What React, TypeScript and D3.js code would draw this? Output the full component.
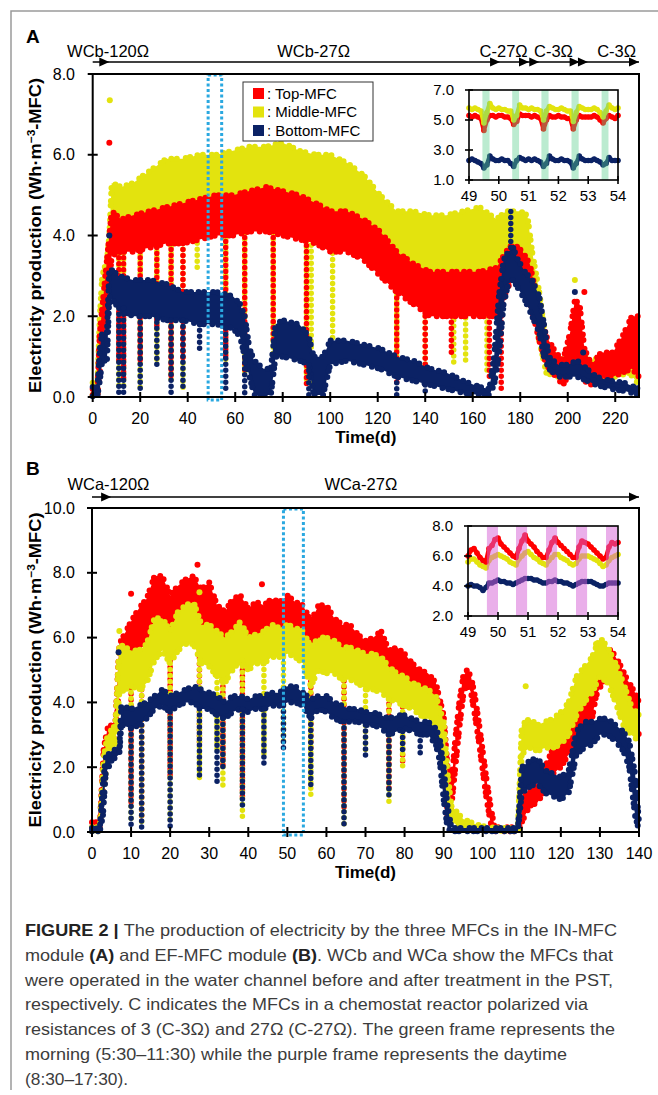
import React from 'react';
import * as d3 from 'd3';

const FONT = '"Liberation Sans", Arial, Helvetica, sans-serif';
const RED = '#ff0000';
const YELLOW = '#e3e30e';
const NAVY = '#0b2265';

// ---------- panel A : IN-MFC module ----------
const dayTicksA = [0, 20, 40, 60, 80, 100, 120, 140, 160, 180, 200, 220];
const valueTicksA = [0, 2, 4, 6, 8];
const phaseLabelsA = ['WCb-120Ω', 'WCb-27Ω', 'C-27Ω', 'C-3Ω', 'C-3Ω'];
const phaseDaysA = [6.5, 93, 173, 194, 220.6];
const arrowHeadsA = [7, 171.5, 183.7, 188, 205, 208.5, 230];
const focusA = [48.6, 54.3];

// band: [day, low, high]; dips: [day, from, to]; spots: [day, value]
const middleBandA = [[0,0.05,0.35],[2,0.05,0.3],[3,0.8,2.0],[4,2.0,3.0],[6,2.8,3.4],[7,3.0,4.0],[8,4.3,5.3],[12,4.3,5.2],[17,4.4,5.3],[24,4.5,5.6],[31,4.6,5.9],[38,4.7,5.9],[45,4.7,6.0],[52,4.8,6.0],[59,4.8,6.1],[66,4.8,6.2],[73,4.8,6.2],[80,4.7,6.3],[87,4.6,6.1],[94,4.5,6.0],[100,4.3,6.0],[107,4.2,5.8],[114,4.0,5.5],[121,3.6,5.0],[128,3.1,4.6],[135,2.8,4.6],[142,2.6,4.5],[149,2.8,4.5],[156,3.0,4.6],[163,2.9,4.7],[170,2.7,4.4],[174,3.0,4.6],[180,3.3,4.6],[183,3.1,4.5],[185,2.6,3.6],[188,1.4,2.6],[191,0.6,1.3],[195,0.5,1.0],[199,0.5,0.9],[202,0.7,1.5],[205,0.6,1.3],[209,0.4,0.8],[213,0.5,1.0],[220,0.5,0.9],[226,0.6,1.3],[230,0.3,0.9]];
const middleDipsA = [[11,4.3,0.2],[13,4.3,0.2],[20,4.4,0.2],[27,4.5,0.9],[33,4.6,0.3],[38,4.7,0.2],[44,4.7,3.2],[56,4.8,0.9],[64,4.8,0.5],[76,4.8,1.0],[90,4.6,0.3],[92,4.5,0.2],[101,4.3,1.3],[128,3.1,0.5],[140,2.6,0.3],[152,2.8,0.8],[157,3.0,0.9],[166,2.9,0.6]];
const middleSpotsA = [[7.2,7.35],[203,2.9]];

const topBandA = [[0,0.05,0.2],[2,0.05,0.2],[3,0.6,1.6],[5,1.6,2.8],[7,2.8,4.0],[8,3.5,4.6],[12,3.6,4.4],[17,3.6,4.5],[24,3.7,4.6],[31,3.8,4.7],[38,3.8,4.8],[45,3.9,4.9],[52,4.0,5.0],[59,4.0,5.0],[66,4.1,5.1],[73,4.1,5.2],[80,4.0,5.1],[87,3.9,5.0],[94,3.8,4.8],[100,3.6,4.6],[107,3.6,4.6],[114,3.4,4.4],[121,3.0,4.1],[128,2.6,3.6],[135,2.3,3.3],[142,2.0,3.1],[149,2.0,3.1],[156,2.0,3.1],[163,2.0,3.1],[170,2.0,3.2],[174,2.6,3.6],[177,3.0,3.8],[181,2.8,3.6],[184,2.4,3.3],[188,1.4,2.2],[191,0.8,1.5],[195,0.5,1.1],[198,0.3,0.9],[201,0.6,1.6],[203,0.9,2.4],[205,0.7,2.3],[207,0.4,1.2],[210,0.3,0.8],[214,0.5,1.1],[219,0.5,1.1],[223,0.6,1.5],[227,0.7,2.0],[230,0.5,2.0]];
const topDipsA = [[11,3.6,0.8],[13,3.6,0.4],[20,3.6,0.9],[27,3.7,1.7],[33,3.8,0.5],[38,3.8,0.9],[56,4.0,0.9],[64,4.1,0.6],[76,4.1,1.3],[90,3.9,0.3],[128,2.6,0.3],[140,2.0,0.3],[151,2.0,1.0],[167,2.0,0.5],[172,2.0,0.2]];
const topSpotsA = [[7,6.3],[207,2.6]];

const bottomBandA = [[0,0.02,0.25],[2,0.02,0.25],[3,0.4,1.2],[4,0.9,1.6],[6,0.9,1.6],[7,2.5,3.2],[11,2.2,3.0],[17,2.0,2.9],[24,2.0,2.9],[31,1.9,2.8],[38,1.9,2.6],[45,1.8,2.6],[52,1.8,2.6],[59,1.7,2.5],[62,1.5,2.3],[64,1.0,2.0],[66,0.5,1.2],[68,0.05,0.9],[72,0.05,0.7],[75,0.05,0.7],[77,1.0,1.8],[80,1.0,1.9],[87,0.9,1.8],[91,0.8,1.5],[93,0.05,1.0],[97,0.05,1.0],[100,0.8,1.4],[107,0.9,1.4],[114,0.8,1.3],[121,0.7,1.2],[128,0.5,1.0],[135,0.4,0.9],[142,0.3,0.7],[149,0.2,0.6],[156,0.1,0.4],[163,0.05,0.25],[167,0.05,0.2],[169,0.3,1.0],[171,1.0,2.5],[173,2.3,3.4],[175,2.8,3.6],[177,2.9,3.7],[179,2.7,3.4],[182,2.4,3.1],[185,2.0,2.9],[188,1.6,2.5],[190,1.0,1.8],[192,0.7,1.0],[196,0.5,0.8],[200,0.5,0.8],[204,0.5,0.9],[208,0.4,0.7],[212,0.3,0.5],[218,0.2,0.4],[224,0.15,0.35],[230,0.05,0.2]];
const bottomDipsA = [[11,2.2,0.1],[13,2.2,0.1],[20,2.0,0.1],[27,2.0,0.8],[33,1.9,0.1],[38,1.9,0.2],[45,1.8,1.2],[56,1.7,0.1],[64,1.0,0.1],[91,0.8,0.05],[128,0.5,0.05],[140,0.3,0.05],[176,3.7,4.6]];
const bottomSpotsA = [[7,4.0],[203,2.6],[206.5,1.1]];

// inset A (days 49-54, 0.1 d steps)
const insetTicksA = [1, 3, 5, 7];
const morningBands = [[49.45,49.69],[50.45,50.68],[51.43,51.67],[52.44,52.68],[53.45,53.68]];
const insetMiddleA = [5.8,5.7,5.8,5.7,5.6,4.8,5.5,6.1,5.8,5.7, 5.8,5.7,5.7,5.6,5.6,5.0,5.3,6.0,5.8,5.8, 5.7,5.8,5.7,5.7,5.6,5.0,5.6,5.9,5.8,5.7, 5.7,5.8,5.7,5.6,5.6,4.9,5.5,5.9,5.8,5.7, 5.7,5.7,5.8,5.7,5.5,5.2,5.6,6.0,5.8,5.7, 5.8];
const insetTopA = [5.3,5.2,5.3,5.2,5.1,4.3,5.0,5.3,5.3,5.2, 5.3,5.3,5.2,5.2,5.1,4.7,4.9,5.4,5.3,5.3, 5.3,5.2,5.3,5.2,5.1,4.4,5.0,5.3,5.2,5.2, 5.3,5.2,5.2,5.1,5.1,4.4,5.0,5.3,5.2,5.2, 5.2,5.2,5.3,5.2,5.0,4.8,5.1,5.3,5.2,5.1, 5.3];
const insetBottomA = [2.3,2.4,2.3,2.2,2.1,1.8,2.0,2.6,2.4,2.3, 2.3,2.4,2.3,2.3,2.1,1.9,2.3,2.5,2.4,2.3, 2.4,2.3,2.4,2.3,2.2,1.9,2.1,2.6,2.4,2.3, 2.3,2.4,2.3,2.3,2.2,1.8,2.1,2.6,2.4,2.3, 2.3,2.3,2.4,2.3,2.2,2.0,2.1,2.5,2.3,2.3, 2.3];

// ---------- panel B : EF-MFC module ----------
const dayTicksB = [0, 10, 20, 30, 40, 50, 60, 70, 80, 90, 100, 110, 120, 130, 140];
const valueTicksB = [0, 2, 4, 6, 8, 10];
const phaseLabelsB = ['WCa-120Ω', 'WCa-27Ω'];
const phaseDaysB = [4.2, 68.8];
const arrowHeadsB = [4.9, 140];
const focusB = [49, 54.1];

const topBandB = [[0,0.05,0.3],[2,0.05,0.2],[3,1.5,2.6],[4,2.6,3.2],[6,3.0,3.4],[7,4.5,5.8],[10,5.0,6.5],[12,5.5,6.9],[14,6.0,7.2],[16,6.7,7.9],[18,6.6,7.9],[20,6.2,7.3],[22,6.6,7.6],[24,6.8,7.8],[26,6.7,7.9],[28,6.2,7.5],[30,6.3,7.7],[32,5.9,7.0],[34,5.6,6.8],[36,6.0,7.2],[38,6.1,7.3],[40,5.8,6.9],[42,6.2,7.1],[44,6.0,7.0],[46,6.3,7.2],[48,6.2,7.1],[50,6.3,7.3],[52,6.2,7.1],[54,6.0,7.0],[56,5.2,6.5],[58,5.9,7.0],[60,5.8,7.0],[62,5.6,6.6],[64,5.4,6.4],[66,5.4,6.4],[68,5.2,6.1],[70,5.0,5.9],[72,5.1,6.0],[74,5.0,6.2],[76,4.7,5.6],[78,4.7,5.7],[80,4.6,5.5],[82,4.5,5.2],[84,4.3,5.0],[86,4.2,4.9],[88,3.6,4.6],[90,2.8,3.6],[91,0.5,2.0],[92,0.8,1.5],[93,2.0,2.9],[94,3.2,4.0],[95,4.2,4.8],[96,4.6,5.0],[97,4.3,4.8],[98,3.6,4.2],[99,2.8,3.4],[100,1.9,2.5],[101,1.0,1.6],[102,0.3,0.8],[103,0.02,0.15],[109,0.02,0.15],[110,0.3,0.9],[112,0.8,1.4],[114,0.9,1.5],[116,1.3,2.0],[118,1.8,2.6],[120,2.0,2.9],[122,2.4,3.2],[124,2.9,3.6],[126,3.3,3.9],[128,3.5,4.2],[129,4.2,5.4],[131,4.7,5.7],[133,4.8,5.6],[135,4.3,5.2],[137,3.8,4.7],[139,3.3,4.3],[140,3.0,4.0]];
const topDipsB = [[10,5.0,0.8],[12.7,5.5,0.4],[20,6.2,1.6],[27.5,6.3,2.6],[33.5,5.6,2.0],[38.5,6.1,1.0],[56,5.2,2.5],[64.5,5.4,0.6],[76,4.7,1.2],[79.5,4.6,2.1]];
const topSpotsB = [[10,7.35],[27,8.25],[43.5,7.65],[1,0.3]];

const middleBandB = [[0,0.02,0.15],[2,0.02,0.15],[3,1.2,2.3],[4,2.4,3.0],[6,2.7,3.3],[7,4.3,5.8],[10,4.5,5.6],[12,4.4,5.6],[14,4.6,5.8],[16,5.3,6.6],[18,5.6,6.6],[20,5.2,6.2],[22,5.6,6.8],[24,5.8,7.0],[26,5.8,7.1],[28,5.2,6.4],[30,5.1,6.4],[32,4.8,6.2],[34,4.6,6.0],[36,5.0,6.2],[38,5.3,6.5],[40,5.0,6.0],[42,5.2,6.1],[44,5.2,6.2],[46,5.4,6.4],[48,5.4,6.3],[50,5.5,6.4],[52,5.4,6.3],[54,5.2,6.2],[56,4.5,5.7],[58,5.0,6.0],[60,4.9,6.0],[62,4.9,5.9],[64,4.7,5.7],[66,4.7,5.7],[68,4.6,5.6],[70,4.4,5.5],[72,4.4,5.5],[74,4.3,5.4],[76,4.1,5.1],[78,4.0,4.9],[80,3.9,4.8],[82,3.8,4.6],[84,3.6,4.5],[86,3.5,4.4],[88,3.2,4.2],[90,2.0,3.4],[91,0.5,1.8],[92,0.3,0.8],[95,0.15,0.4],[98,0.1,0.25],[101,0.05,0.15],[109,0.02,0.1],[110,2.4,3.3],[112,2.6,3.5],[114,2.5,3.3],[116,2.6,3.4],[118,2.6,3.5],[120,2.7,3.7],[122,3.0,4.0],[124,3.6,4.8],[126,4.0,5.1],[128,4.3,5.4],[130,4.8,6.0],[132,4.6,5.7],[134,4.0,5.2],[136,3.3,4.6],[138,3.0,3.9],[140,2.8,3.6]];
const middleDipsB = [[10,4.5,0.3],[12.7,4.4,0.2],[20,5.2,0.3],[27.5,5.2,1.6],[32,4.8,2.4],[33.5,4.6,1.4],[38.5,5.3,0.3],[44,5.2,2.4],[49,5.4,2.8],[56,4.5,1.0],[64.5,4.7,0.1],[70,4.4,2.5],[76,4.1,0.9],[79.5,3.9,1.9]];
const middleSpotsB = [[7,6.2],[27.5,7.4],[111,4.5],[129,5.8]];

const bottomBandB = [[0,0.02,0.12],[2,0.02,0.1],[2.8,0.5,1.5],[3.5,1.8,2.3],[5,2.2,2.5],[7,2.4,2.6],[7.5,3.3,3.9],[10,3.2,3.8],[12,3.3,3.9],[14,3.5,4.0],[16,3.8,4.2],[18,3.9,4.4],[20,3.7,4.2],[22,3.9,4.3],[24,4.0,4.4],[26,4.0,4.5],[28,3.8,4.4],[30,3.8,4.3],[32,3.6,4.2],[34,3.5,4.0],[36,3.7,4.2],[38,3.8,4.2],[40,3.7,4.1],[42,3.8,4.2],[44,3.8,4.2],[46,3.9,4.3],[48,3.9,4.3],[50,4.0,4.5],[52,4.0,4.5],[54,3.9,4.3],[56,3.5,4.1],[58,3.8,4.2],[60,3.7,4.2],[62,3.5,4.0],[64,3.4,3.9],[66,3.4,3.8],[68,3.4,3.8],[70,3.3,3.7],[72,3.3,3.7],[74,3.2,3.6],[76,3.0,3.5],[78,3.1,3.6],[80,3.2,3.6],[82,3.1,3.5],[84,3.0,3.4],[86,3.0,3.4],[88,2.7,3.2],[89,2.2,2.9],[90,1.0,2.0],[91,0.1,0.8],[92,0.02,0.12],[109,0.02,0.12],[110,1.2,2.0],[112,1.4,2.2],[114,1.5,2.3],[116,1.2,1.9],[118,1.1,1.8],[120,1.0,1.7],[122,1.2,1.9],[124,2.4,3.1],[126,2.6,3.4],[128,2.7,3.4],[130,3.0,3.5],[132,3.0,3.5],[134,2.8,3.3],[136,2.5,3.1],[137.5,2.0,2.8],[139,0.5,1.8],[140,0.05,0.3]];
const bottomDipsB = [[10,3.2,0.2],[12.7,3.3,0.1],[20,3.7,0.1],[27.5,3.8,1.6],[32,3.6,1.5],[33.5,3.5,1.9],[38.5,3.8,0.7],[44,3.8,2.1],[49,3.9,2.5],[56,3.5,1.4],[64.5,3.4,0.2],[70,3.3,2.3],[76,3.0,1.0],[79.5,3.1,2.4],[84,3.0,2.4]];
const bottomSpotsB = [[6.8,5.55]];

// inset B (days 49-54, 0.1 d steps)
const insetTicksB = [2, 4, 6, 8];
const daytimeBands = [[49.63,50.0],[50.6,50.97],[51.6,51.97],[52.6,52.97],[53.6,53.97]];
const insetTopB = [6.0,6.4,6.5,6.2,5.9,5.7,5.6,6.5,6.7,7.1, 7.2,6.8,6.6,6.4,6.2,6.0,5.9,6.5,7.0,7.4, 7.0,6.8,6.6,6.3,6.1,5.9,5.9,6.4,6.9,7.2, 6.9,6.7,6.5,6.3,6.1,5.9,5.9,6.6,7.0,6.9, 6.8,6.6,6.4,6.2,6.0,5.8,5.9,6.6,6.9,6.8, 6.9];
const insetMiddleB = [5.6,5.8,5.8,5.6,5.4,5.3,5.2,5.7,5.9,6.0, 6.1,6.0,5.9,5.8,5.6,5.5,5.4,5.8,6.0,6.2, 6.3,6.1,5.9,5.8,5.6,5.5,5.4,5.7,5.9,6.1, 6.1,5.9,5.8,5.7,5.5,5.4,5.5,5.8,6.0,6.0, 6.0,5.9,5.8,5.7,5.5,5.3,5.4,5.7,5.9,6.0, 6.1];
const insetBottomB = [4.0,4.1,4.0,4.0,3.9,3.7,3.9,4.2,4.2,4.3, 4.4,4.3,4.3,4.2,4.2,4.1,4.2,4.3,4.4,4.5, 4.5,4.5,4.4,4.4,4.3,4.2,4.2,4.3,4.3,4.4, 4.3,4.3,4.2,4.2,4.1,4.0,4.1,4.2,4.3,4.3, 4.3,4.3,4.2,4.1,4.0,4.0,4.1,4.2,4.2,4.2, 4.2];

const insetDays = d3.range(0, 51).map(i => 49 + i / 10);
const insetDayTicks = [49, 50, 51, 52, 53, 54];

const legendItems = [[RED, ': Top-MFC'], [YELLOW, ': Middle-MFC'], [NAVY, ': Bottom-MFC']];

const captionLines = [
    [['FIGURE 2 | ', true], ['The production of electricity by the three MFCs in the IN-MFC', false]],
    [['module ', false], ['(A)', true], [' and EF-MFC module ', false], ['(B)', true], ['. WCb and WCa show the MFCs that', false]],
    [['were operated in the water channel before and after treatment in the PST,', false]],
    [['respectively. C indicates the MFCs in a chemostat reactor polarized via', false]],
    [['resistances of 3 (C-3Ω) and 27Ω (C-27Ω). The green frame represents the', false]],
    [['morning (5:30–11:30) while the purple frame represents the daytime', false]],
    [['(8:30–17:30).', false]],
];
const captionWidths = [592, 588, 588, 563, 590, 542, 103];

const fmt = d3.format('.1f');

function Series({ color, band, dips, spots, x, y }) {
    const area = d3.area().x(d => x(d[0])).y0(d => y(d[1])).y1(d => y(d[2]));
    const hi = d3.line().x(d => x(d[0])).y(d => y(d[2]));
    const lo = d3.line().x(d => x(d[0])).y(d => y(d[1]));
    const dot = { fill: 'none', stroke: color, strokeLinecap: 'round' };
    return (
        <g>
            <path d={area(band)} fill={color} />
            {/* scattered-looking rims along the band edges */}
            <path d={hi(band)} {...dot} strokeWidth={6} strokeDasharray="0 4.5 0 7.5 0 5.5 0 9" />
            <path d={lo(band)} {...dot} strokeWidth={6} strokeDasharray="0 6 0 4 0 8.5" />
            {dips.map(([d, a, b], i) => (
                <line key={i} x1={x(d)} x2={x(d)} y1={y(a)} y2={y(b)} {...dot} strokeWidth={5.5} strokeDasharray="0 6" />
            ))}
            {spots.map(([d, v], i) => <circle key={i} cx={x(d)} cy={y(v)} r={3} fill={color} />)}
        </g>
    );
}

function Inset({ xRange, yRange, yDomain, yTicks, bands, bandColor, bandOpacity, lines }) {
    const x = d3.scaleLinear().domain([49, 54]).range(xRange);
    const y = d3.scaleLinear().domain(yDomain).range(yRange);
    const line = d3.line().x((d, i) => x(insetDays[i])).y(d => y(d));
    const [x0, x1] = xRange;
    const [yb, yt] = yRange;
    return (
        <g>
            <rect x={x0} y={yt} width={x1 - x0} height={yb - yt} fill="#fff" />
            {lines.map(([color, vals], k) => (
                <g key={k}>
                    <path d={line(vals)} fill="none" stroke={color} strokeWidth={4.5} strokeLinejoin="round" strokeLinecap="round" />
                    {vals.map((v, i) => <circle key={i} cx={x(insetDays[i])} cy={y(v)} r={2.8} fill={color} />)}
                </g>
            ))}
            {bands.map(([a, b], i) => (
                <rect key={i} x={x(a)} y={yt} width={x(b) - x(a)} height={yb - yt} fill={bandColor} opacity={bandOpacity} />
            ))}
            <rect x={x0} y={yt} width={x1 - x0} height={yb - yt} fill="none" stroke="#000" strokeWidth={1.6} />
            {yTicks.map(t => (
                <g key={t}>
                    <line x1={x0 - 4} x2={x0 + 4} y1={y(t)} y2={y(t)} stroke="#000" strokeWidth={1.6} />
                    <text x={x0 - 15} y={y(t)} dy="0.35em" textAnchor="end" fontSize={15}>{fmt(t)}</text>
                </g>
            ))}
            {insetDayTicks.map(t => (
                <g key={t}>
                    <line x1={x(t)} x2={x(t)} y1={yb - 4} y2={yb + 4} stroke="#000" strokeWidth={1.6} />
                    <text x={x(t)} y={yb + 21} textAnchor="middle" fontSize={15}>{t}</text>
                </g>
            ))}
        </g>
    );
}

function Panel({ letter, letterY, xDomain, xRange, yDomain, yRange, dayTicks, valueTicks, phaseLabels, phaseDays,
                   labelY, arrowY, heads, series, focus, xTitleY, children }) {
    const x = d3.scaleLinear().domain(xDomain).range(xRange);
    const y = d3.scaleLinear().domain(yDomain).range(yRange);
    const [x0, x1] = xRange;
    const [yb, yt] = yRange;
    return (
        <g>
            <text x={26} y={letterY} fontSize={19} fontWeight="bold">{letter}</text>
            {phaseLabels.map((t, i) => (
                <text key={i} x={x(phaseDays[i])} y={labelY} textAnchor="middle" fontSize={16.5}>{t}</text>
            ))}
            <line x1={x0} x2={x1} y1={arrowY} y2={arrowY} stroke="#000" strokeWidth={1.5} />
            {heads.map((d, i) => <path key={i} d={`M${x(d)},${arrowY}l-10,-4.5v9z`} fill="#000" />)}

            {series.map((s, i) => <Series key={i} {...s} x={x} y={y} />)}

            <rect x={x(focus[0])} y={yt + 1} width={x(focus[1]) - x(focus[0])} height={yb - yt + 2}
                  fill="none" stroke="#2aa8e0" strokeWidth={3} strokeDasharray="3 2.5" />

            {children}

            <rect x={x0} y={yt} width={x1 - x0} height={yb - yt} fill="none" stroke="#000" strokeWidth={2} />
            {valueTicks.map(t => (
                <g key={t}>
                    <line x1={x0 - 5} x2={x0 + 5} y1={y(t)} y2={y(t)} stroke="#000" strokeWidth={2} />
                    <text x={75} y={y(t)} dy="0.35em" textAnchor="end" fontSize={16}>{fmt(t)}</text>
                </g>
            ))}
            {dayTicks.map(t => (
                <g key={t}>
                    <line x1={x(t)} x2={x(t)} y1={yb - 5} y2={yb + 5} stroke="#000" strokeWidth={2} />
                    <text x={x(t)} y={yb + 27} textAnchor="middle" fontSize={16}>{t}</text>
                </g>
            ))}
            <text x={(x0 + x1) / 2} y={xTitleY} textAnchor="middle" fontSize={17} fontWeight="bold">Time(d)</text>
            <text transform={`translate(41,${(yb + yt) / 2}) rotate(-90)`} textAnchor="middle" fontSize={17}
                  fontWeight="bold" textLength={315} lengthAdjust="spacingAndGlyphs">
                Electricity production (Wh·m<tspan dy={-6} fontSize={11}>−3</tspan><tspan dy={6}>-MFC)</tspan>
            </text>
        </g>
    );
}

function Legend() {
    return (
        <g>
            <rect x={243} y={82} width={130} height={59} fill="#fff" stroke="#333" strokeWidth={1} />
            {legendItems.map(([c, t], i) => (
                <g key={i}>
                    <rect x={253} y={88 + i * 18.5} width={11} height={11} fill={c} />
                    <text x={267} y={93.5 + i * 18.5} dy="0.35em" fontSize={15}>{t}</text>
                </g>
            ))}
        </g>
    );
}

export default function App() {
    const seriesA = [
        { color: YELLOW, band: middleBandA, dips: middleDipsA, spots: middleSpotsA },
        { color: RED, band: topBandA, dips: topDipsA, spots: topSpotsA },
        { color: NAVY, band: bottomBandA, dips: bottomDipsA, spots: bottomSpotsA },
    ];
    const seriesB = [
        { color: RED, band: topBandB, dips: topDipsB, spots: topSpotsB },
        { color: YELLOW, band: middleBandB, dips: middleDipsB, spots: middleSpotsB },
        { color: NAVY, band: bottomBandB, dips: bottomDipsB, spots: bottomSpotsB },
    ];
    return (
        <svg width={658} height={1095} fontFamily={FONT}
             style={{ position: 'absolute', left: 0, top: 0, display: 'block', background: '#fff' }}>
            <path d="M11,1090V11H658" fill="none" stroke="#9a9a9a" strokeWidth={1.5} />

            <Panel letter="A" letterY={43} xDomain={[0, 230]} xRange={[92.7, 639]} yDomain={[0, 8]} yRange={[397, 74]}
                   dayTicks={dayTicksA} valueTicks={valueTicksA} phaseLabels={phaseLabelsA} phaseDays={phaseDaysA}
                   labelY={57} arrowY={62} heads={arrowHeadsA} series={seriesA} focus={focusA} xTitleY={443}>
                <Legend />
                <Inset xRange={[469, 618]} yRange={[180, 90]} yDomain={[1, 7]} yTicks={insetTicksA}
                       bands={morningBands} bandColor="#5ccf8e" bandOpacity={0.42}
                       lines={[[RED, insetTopA], [YELLOW, insetMiddleA], [NAVY, insetBottomA]]} />
            </Panel>

            <Panel letter="B" letterY={475} xDomain={[0, 140]} xRange={[92, 639]} yDomain={[0, 10]} yRange={[832, 508]}
                   dayTicks={dayTicksB} valueTicks={valueTicksB} phaseLabels={phaseLabelsB} phaseDays={phaseDaysB}
                   labelY={490} arrowY={497} heads={arrowHeadsB} series={seriesB} focus={focusB} xTitleY={878}>
                <Inset xRange={[468, 618]} yRange={[616, 526]} yDomain={[2, 8]} yTicks={insetTicksB}
                       bands={daytimeBands} bandColor="#d65fd6" bandOpacity={0.5}
                       lines={[[YELLOW, insetMiddleB], [RED, insetTopB], [NAVY, insetBottomB]]} />
            </Panel>

            {captionLines.map((segs, i) => (
                <text key={i} x={25} y={936 + i * 24.8} fontSize={16.5} fill="#3c3c3c"
                      textLength={captionWidths[i]} lengthAdjust="spacingAndGlyphs">
                    {segs.map(([t, b], j) => (
                        <tspan key={j} fontWeight={b ? 'bold' : 'normal'} fill={b ? '#222' : '#3c3c3c'}>{t}</tspan>
                    ))}
                </text>
            ))}
        </svg>
    );
}
